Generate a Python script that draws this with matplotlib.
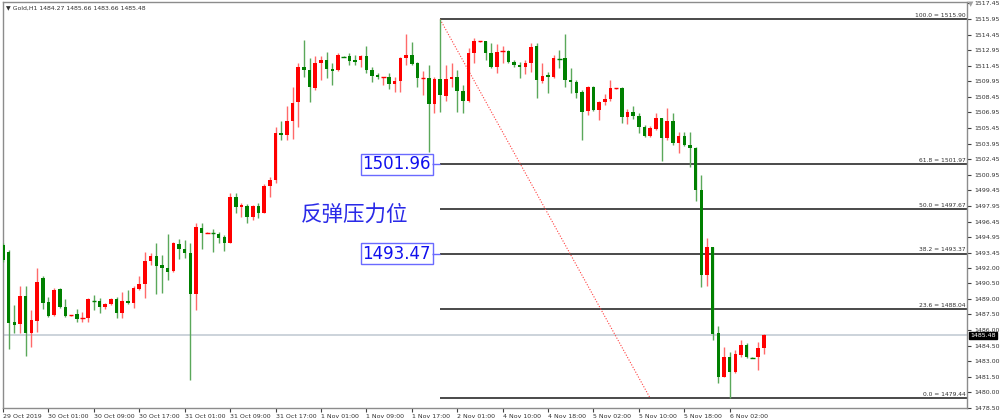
import matplotlib
matplotlib.use("Agg")
import matplotlib.pyplot as plt
import matplotlib.transforms as mtransforms
import numpy as np

# ── Gold H1 candles ───────────────────────────────────────────────────────────
opens = [
    1494.19, 1493.52, 1486.78, 1486.59, 1489.28, 1485.72, 1486.87, 1491.01, 1488.70, 1487.45,
    1489.95, 1488.22, 1487.40, 1487.55, 1487.07, 1487.16, 1488.90, 1488.80, 1488.22, 1488.51,
    1488.99, 1487.64, 1488.80, 1488.61, 1489.95, 1490.44, 1492.65, 1493.13, 1492.26, 1491.98,
    1491.69, 1494.29, 1493.80, 1493.42, 1489.47, 1495.83, 1495.34, 1495.44, 1495.25, 1494.96,
    1494.38, 1498.81, 1497.85, 1497.94, 1496.88, 1497.94, 1497.27, 1499.87, 1500.45, 1504.97,
    1504.78, 1506.12, 1507.95, 1511.32, 1511.03, 1509.30, 1511.71, 1512.00, 1511.13, 1511.03,
    1512.38, 1512.38, 1512.00, 1512.00, 1512.38, 1511.03, 1510.55, 1510.31, 1510.36, 1509.69,
    1509.97, 1512.19, 1512.48, 1511.71, 1510.21, 1510.26, 1507.76, 1510.17, 1508.53, 1510.17,
    1510.36, 1509.01, 1508.05, 1512.67, 1513.78, 1513.82, 1512.67, 1511.32, 1512.77, 1512.86,
    1511.80, 1511.51, 1511.32, 1511.71, 1513.34, 1509.97, 1510.55, 1510.36, 1512.19, 1512.19,
    1510.07, 1509.88, 1508.92, 1507.09, 1509.40, 1507.18, 1507.95, 1508.24, 1509.25, 1509.30,
    1506.51, 1506.99, 1506.61, 1505.55, 1504.68, 1505.35, 1506.41, 1504.49, 1506.12, 1504.01,
    1504.68, 1503.81, 1503.52, 1499.48, 1491.30, 1494.00, 1485.72, 1481.48, 1483.41, 1481.97,
    1483.60, 1484.56, 1483.41, 1483.41, 1484.27]
highs = [
    1494.38, 1493.71, 1488.41, 1490.24, 1490.24, 1487.93, 1491.98, 1491.21, 1489.18, 1490.05,
    1490.05, 1488.99, 1487.45, 1488.03, 1487.74, 1489.09, 1489.38, 1489.09, 1488.61, 1489.09,
    1489.18, 1489.67, 1489.86, 1490.24, 1491.21, 1493.52, 1493.42, 1494.38, 1493.23, 1495.25,
    1494.48, 1494.77, 1494.67, 1494.38, 1496.31, 1496.31, 1495.44, 1495.73, 1495.44, 1495.15,
    1499.19, 1499.19, 1498.23, 1498.13, 1498.04, 1498.23, 1500.06, 1500.73, 1505.55, 1506.12,
    1507.57, 1509.40, 1511.71, 1513.92, 1512.19, 1512.38, 1512.38, 1512.77, 1511.71, 1512.67,
    1512.43, 1512.67, 1512.48, 1512.48, 1513.34, 1511.32, 1510.74, 1510.36, 1510.74, 1510.36,
    1512.28, 1514.50, 1513.73, 1511.80, 1510.94, 1511.51, 1510.36, 1515.90, 1511.51, 1511.71,
    1511.03, 1509.59, 1513.15, 1514.11, 1513.82, 1513.82, 1513.63, 1513.54, 1513.34, 1512.96,
    1512.00, 1511.80, 1512.00, 1513.63, 1513.63, 1511.71, 1510.84, 1512.48, 1512.96, 1514.50,
    1511.23, 1510.07, 1509.11, 1509.49, 1509.49, 1508.05, 1508.72, 1510.07, 1509.30, 1509.40,
    1507.28, 1507.57, 1506.89, 1505.74, 1505.64, 1506.89, 1506.41, 1507.38, 1506.89, 1505.07,
    1505.07, 1505.07, 1503.62, 1500.93, 1494.86, 1494.00, 1486.39, 1484.37, 1483.89, 1484.08,
    1485.05, 1484.76, 1483.41, 1484.85, 1485.66]
lows = [
    1492.55, 1484.18, 1485.72, 1485.72, 1483.51, 1484.37, 1485.82, 1488.03, 1487.26, 1487.36,
    1488.12, 1487.26, 1487.36, 1486.78, 1486.78, 1486.78, 1487.93, 1487.64, 1488.03, 1488.41,
    1487.16, 1487.16, 1488.51, 1488.12, 1489.86, 1489.09, 1492.26, 1489.47, 1489.57, 1490.82,
    1491.59, 1492.84, 1492.94, 1481.19, 1487.93, 1493.80, 1495.30, 1493.52, 1494.38, 1493.61,
    1494.38, 1497.27, 1496.88, 1496.31, 1496.60, 1496.79, 1497.27, 1498.81, 1500.16, 1504.30,
    1504.30, 1504.39, 1505.55, 1510.36, 1507.95, 1509.11, 1510.07, 1510.26, 1509.59, 1510.94,
    1512.28, 1511.51, 1511.51, 1511.32, 1510.74, 1509.88, 1510.17, 1509.59, 1509.20, 1508.92,
    1508.92, 1511.51, 1511.51, 1509.40, 1508.63, 1503.14, 1506.89, 1506.99, 1508.05, 1509.40,
    1506.99, 1506.89, 1507.95, 1511.71, 1513.73, 1512.00, 1511.23, 1510.74, 1511.71, 1511.71,
    1511.32, 1510.26, 1510.65, 1510.84, 1508.34, 1509.78, 1508.82, 1510.26, 1511.23, 1509.40,
    1508.82, 1508.34, 1504.30, 1506.70, 1507.09, 1506.22, 1507.66, 1508.05, 1509.20, 1505.93,
    1505.84, 1506.32, 1504.97, 1504.58, 1504.58, 1505.26, 1502.27, 1504.30, 1503.81, 1503.04,
    1503.72, 1501.70, 1498.42, 1490.15, 1490.24, 1485.05, 1480.91, 1481.48, 1479.44, 1481.87,
    1483.41, 1483.31, 1483.31, 1482.16, 1483.66]
closes = [
    1492.75, 1486.68, 1486.49, 1489.28, 1485.72, 1486.97, 1490.63, 1488.61, 1487.36, 1489.86,
    1488.22, 1487.36, 1487.45, 1487.07, 1487.16, 1488.99, 1488.80, 1488.22, 1488.51, 1488.99,
    1487.64, 1488.80, 1488.61, 1490.05, 1490.44, 1492.65, 1493.13, 1492.17, 1491.98, 1491.59,
    1494.38, 1493.80, 1493.42, 1489.47, 1495.92, 1495.34, 1495.39, 1495.34, 1494.86, 1494.38,
    1498.81, 1497.85, 1498.04, 1496.88, 1497.94, 1497.27, 1499.87, 1500.45, 1504.97, 1504.78,
    1506.12, 1507.86, 1511.32, 1511.03, 1509.40, 1511.71, 1512.00, 1511.13, 1510.94, 1512.48,
    1512.33, 1511.90, 1511.80, 1512.38, 1511.03, 1510.46, 1510.36, 1510.36, 1509.69, 1509.97,
    1512.19, 1512.48, 1511.61, 1510.26, 1510.26, 1507.76, 1510.17, 1508.63, 1510.17, 1510.36,
    1509.01, 1508.05, 1512.67, 1513.82, 1513.82, 1512.67, 1511.32, 1512.77, 1512.86, 1511.80,
    1511.51, 1511.32, 1511.71, 1513.25, 1510.07, 1510.46, 1510.36, 1512.19, 1512.09, 1510.07,
    1509.88, 1508.82, 1506.99, 1509.40, 1507.18, 1507.95, 1508.24, 1509.30, 1509.30, 1506.51,
    1506.99, 1506.61, 1505.55, 1504.68, 1505.45, 1506.41, 1504.49, 1506.12, 1504.01, 1504.68,
    1503.81, 1503.52, 1499.48, 1491.30, 1494.00, 1485.62, 1481.48, 1483.41, 1481.97, 1483.70,
    1484.56, 1483.41, 1483.36, 1484.27, 1485.48]

# x-axis date labels, one every 8 bars
date_labels = ["29 Oct 2019", "30 Oct 01:00", "30 Oct 09:00", "30 Oct 17:00",
               "31 Oct 01:00", "31 Oct 09:00", "31 Oct 17:00", "1 Nov 01:00",
               "1 Nov 09:00", "1 Nov 17:00", "2 Nov 01:00", "4 Nov 10:00",
               "4 Nov 18:00", "5 Nov 02:00", "5 Nov 10:00", "5 Nov 18:00",
               "6 Nov 02:00"]
price_ticks = ["1517.45", "1515.95", "1514.45", "1512.95", "1511.45", "1509.95",
               "1508.45", "1506.95", "1505.45", "1503.95", "1502.45", "1500.95",
               "1499.45", "1497.95", "1496.45", "1494.95", "1493.45", "1492.00",
               "1490.50", "1489.00", "1487.50", "1486.00", "1484.50", "1483.00",
               "1481.50", "1480.00", "1478.50"]

# Fibonacci retracement (high bar -> low anchor)
fib_pct = ["100.0", "61.8", "50.0", "38.2", "23.6", "0.0"]
fib_levels = [1515.90, 1501.97, 1497.67, 1493.37, 1488.04, 1479.44]
fib_start_bar = 77
fib_end_bar = 114
box_labels = ["1501.96", "1493.47"]
last_price = 1485.48
header = "▼ Gold,H1 1484.27 1485.66 1483.66 1485.48"

UP = "#ff0000"
DOWN = "#008000"
SMALL = 4.5

fig = plt.figure(figsize=(10, 4.2), dpi=100)
ax = fig.add_axes([0.003, 12 / 420, 0.964, 406 / 420])

n = len(opens)
idx = np.arange(n)
o = np.array(opens); c = np.array(closes)
h = np.array(highs); l = np.array(lows)
up = c >= o
cols = np.where(up, UP, DOWN)
wick_cols = np.where(up, "#ff6a6a", "#5aa85a")

# current price line (behind candles)
ax.axhline(last_price, color="#c4ccd4", lw=1.2, zorder=1)

# fib lines + labels
for pct, lev in zip(fib_pct, fib_levels):
    ax.hlines(lev, fib_start_bar, 200, color="#3c3c3c", lw=1.3, zorder=2)
    ax.text(169.6, lev + 0.12, f"{pct} = {lev:.2f}", ha="right", va="bottom",
            fontsize=4.3, color="#303030", zorder=6)
ax.plot([fib_start_bar, fib_end_bar], [fib_levels[0], fib_levels[-1]],
        color="#ff4040", lw=0.8, ls=(0, (1, 1.5)), zorder=2)

# candles
ax.vlines(idx, l, h, colors=wick_cols, lw=1.0, zorder=3)
body_lo = np.minimum(o, c)
body_h = np.abs(c - o)
solid = body_h >= 0.12
ax.bar(idx[solid], body_h[solid], bottom=body_lo[solid], width=0.62,
       color=cols[solid], linewidth=0, zorder=4)
ax.hlines(c[~solid], idx[~solid] - 0.4, idx[~solid] + 0.4,
          colors=cols[~solid], lw=1.0, zorder=4)

# blue boxed labels with connectors to fib start
for txt, lev in zip(box_labels, [fib_levels[1], fib_levels[3]]):
    ax.text(75.4, lev, txt, ha="right", va="center", fontsize=12,
            color="#1010ee", zorder=7,
            bbox=dict(boxstyle="square,pad=0.1", fc="white", ec="#6a6aff", lw=1))
    ax.hlines(lev, 75.5, fib_start_bar, color="#6a6aff", lw=1, zorder=7)

ax.text(62.0, 1497.1, "反弹压力位", ha="center", va="center", fontsize=15.5,
        color="#2a2ae8", family=["Noto Sans CJK SC", "DejaVu Sans"], zorder=7)

# axes / ticks
ax.set_xlim(0.05, 169.8)
ax.set_ylim(1478.50, 1517.58)
ax.set_xticks(idx[::8][:len(date_labels)])
ax.set_xticklabels(date_labels, ha="left", fontsize=SMALL, color="#303030")
ax.yaxis.tick_right()
ax.set_yticks([float(t) for t in price_ticks])
ax.set_yticklabels(price_ticks, fontsize=SMALL, color="#303030")
ax.tick_params(axis="x", length=3, width=0.8, pad=1.5, color="#404040")
ax.tick_params(axis="y", length=3, width=0.8, pad=2, color="#404040")
for sp in ax.spines.values():
    sp.set_color("#8c8c8c")
    sp.set_linewidth(1.0)

# last price tag on right axis
trans = mtransforms.blended_transform_factory(ax.transAxes, ax.transData)
ax.text(1.003, last_price, f"{last_price:.2f}", transform=trans, ha="left",
        va="center", fontsize=SMALL, color="white", zorder=8, clip_on=False,
        bbox=dict(boxstyle="square,pad=0.2", fc="black", ec="black"))

# chart header
ax.text(0.003, 0.992, header, transform=ax.transAxes, ha="left", va="top",
        fontsize=4.4, color="#303030")

# small shift marker at top right
fig.text(0.9705, 0.998, "▼", ha="center", va="top", fontsize=5, color="#a0a0a0")

fig.savefig("out.png", dpi=100)
